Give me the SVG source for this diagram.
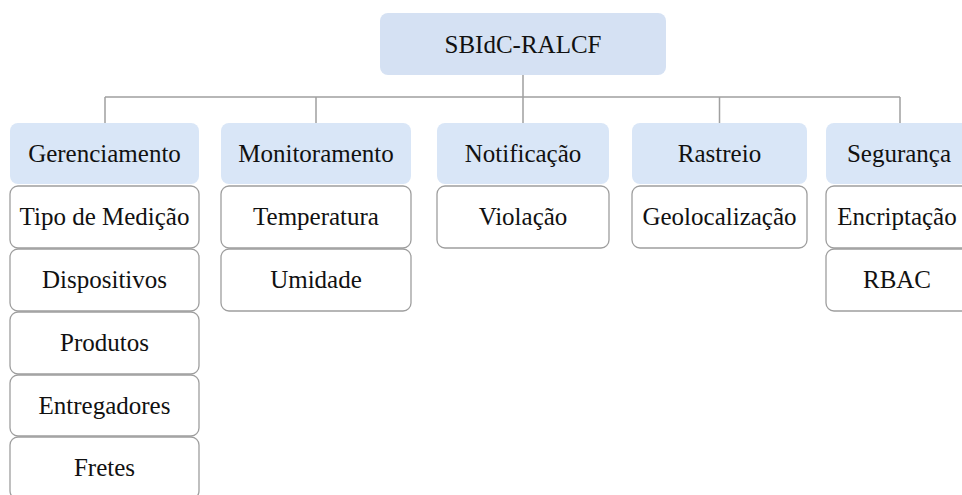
<svg xmlns="http://www.w3.org/2000/svg" width="962" height="495" viewBox="0 0 962 495">
<style>
  .root { fill: #d5e1f3; }
  .hdr { fill: #d9e6f7; }
  .leaf { fill: #ffffff; stroke: #9e9e9e; stroke-width: 1.3; }
  .t { font-size: 25px; fill: #111; text-anchor: middle; }
  .conn { stroke: #a0a0a0; stroke-width: 1.5; fill: none; }
</style>
<rect width="962" height="495" fill="#ffffff"/>
<g id="connectors">
  <path class="conn" d="M523 75 V123 M105 97 H900 M105 97 V123 M316 97 V123 M719.5 97 V123 M900 97 V123"/>
</g>
<g font-family="Liberation Serif, DejaVu Serif, serif">
<g id="root"><rect class="root" x="380" y="13" width="286" height="62" rx="8"/><text class="t" x="523" y="53">SBIdC-RALCF</text></g>

<g id="gerenciamento"><rect class="hdr" x="10" y="123" width="189" height="61" rx="8"/><text class="t" x="104.5" y="162">Gerenciamento</text></g>
<g id="tipo"><rect class="leaf" x="10" y="186" width="189" height="62" rx="8"/><text class="t" x="104.5" y="225">Tipo de Medição</text></g>
<g id="dispositivos"><rect class="leaf" x="10" y="249" width="189" height="62" rx="8"/><text class="t" x="104.5" y="288">Dispositivos</text></g>
<g id="produtos"><rect class="leaf" x="10" y="312" width="189" height="62" rx="8"/><text class="t" x="104.5" y="351">Produtos</text></g>
<g id="entregadores"><rect class="leaf" x="10" y="375" width="189" height="61" rx="8"/><text class="t" x="104.5" y="413.5">Entregadores</text></g>
<g id="fretes"><rect class="leaf" x="10" y="437" width="189" height="62" rx="8"/><text class="t" x="104.5" y="476">Fretes</text></g>

<g id="monitoramento"><rect class="hdr" x="221" y="123" width="190" height="61" rx="8"/><text class="t" x="316" y="162">Monitoramento</text></g>
<g id="temperatura"><rect class="leaf" x="221" y="186" width="190" height="62" rx="8"/><text class="t" x="316" y="225">Temperatura</text></g>
<g id="umidade"><rect class="leaf" x="221" y="249" width="190" height="62" rx="8"/><text class="t" x="316" y="288">Umidade</text></g>

<g id="notificacao"><rect class="hdr" x="437" y="123" width="172" height="61" rx="8"/><text class="t" x="523" y="162">Notificação</text></g>
<g id="violacao"><rect class="leaf" x="437" y="186" width="172" height="62" rx="8"/><text class="t" x="523" y="225">Violação</text></g>

<g id="rastreio"><rect class="hdr" x="632" y="123" width="175" height="61" rx="8"/><text class="t" x="719.5" y="162">Rastreio</text></g>
<g id="geolocalizacao"><rect class="leaf" x="632" y="186" width="175" height="62" rx="8"/><text class="t" x="719.5" y="225">Geolocalização</text></g>

<g id="seguranca"><rect class="hdr" x="826" y="123" width="148" height="61" rx="8"/><text class="t" x="899" y="162">Segurança</text></g>
<g id="encriptacao"><rect class="leaf" x="826" y="186" width="148" height="62" rx="8"/><text class="t" x="897" y="225">Encriptação</text></g>
<g id="rbac"><rect class="leaf" x="826" y="249" width="148" height="62" rx="8"/><text class="t" x="897" y="288">RBAC</text></g>
</g>
</svg>
